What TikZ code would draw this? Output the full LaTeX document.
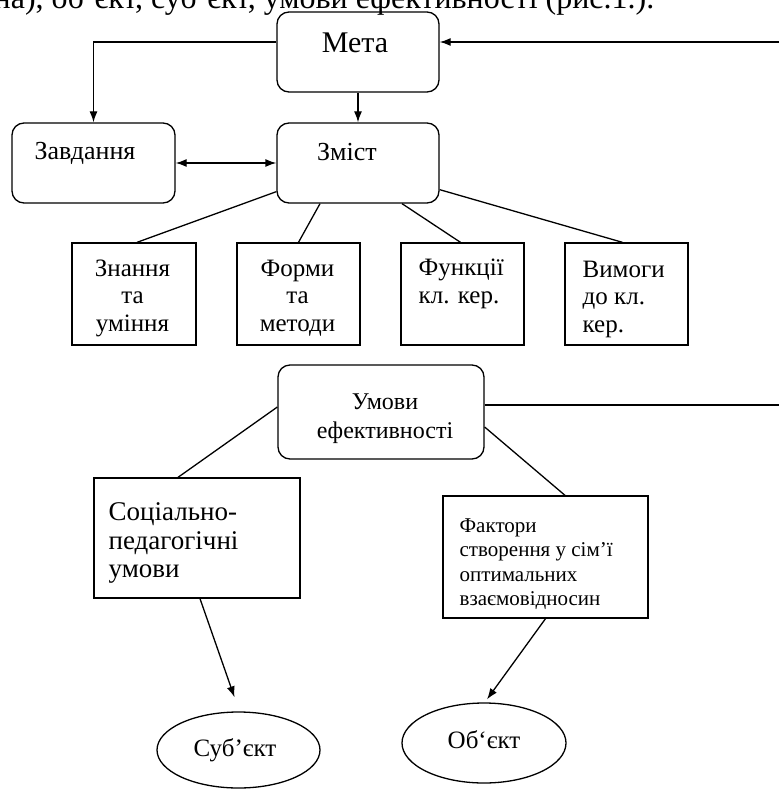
\documentclass[tikz,border=0pt]{standalone}
\usepackage{fontspec}
\setmainfont{Liberation Serif}
\usetikzlibrary{arrows.meta,shapes.geometric}
\begin{document}
\begin{tikzpicture}[x=1pt,y=-1pt,line width=1.3pt,
  rbox/.style={draw,rounded corners=12pt,inner sep=0pt},
  sbox/.style={draw,inner sep=0pt},
  ell/.style={draw,ellipse,inner sep=0pt},
  arr/.style={-{Latex[length=11pt,width=8pt]}},
  darr/.style={{Latex[length=11pt,width=8pt]}-{Latex[length=11pt,width=8pt]}},
  txt/.style={inner sep=0pt,align=center},
  ltxt/.style={inner sep=0pt,align=left,anchor=west},
  fa/.style={font=\fontsize{30}{34}\selectfont},
  ftop/.style={font=\fontsize{32}{36}\selectfont},
  fb/.style={font=\fontsize{26}{29}\selectfont},
  fc/.style={font=\fontsize{25}{27.5}\selectfont},
  fd/.style={font=\fontsize{24}{29}\selectfont},
  fe/.style={font=\fontsize{27}{28.5}\selectfont},
  ff/.style={font=\fontsize{21}{24.5}\selectfont},
]
\useasboundingbox (0,0) rectangle (779,789);
\clip (0,0) rectangle (779,789);

% cut-off line of body text at the top (as in the reference)
\node[inner sep=0pt,anchor=base east,ftop] (toptext) at (655,9) {на), об’єкт, суб’єкт, умови ефективності (рис.1.).};

% boxes
\node[rbox,minimum width=162pt,minimum height=80pt] (meta) at (358,52) {};
\node[txt,fa] (metaT) at (355,43) {Мета};

\node[rbox,minimum width=163pt,minimum height=80pt] (zavd) at (93.5,163) {};
\node[txt,fb] (zavdT) at (85,153) {Завдання};

\node[rbox,minimum width=162pt,minimum height=80pt] (zmist) at (358,163) {};
\node[txt,fb] (zmistT) at (347,152) {Зміст};

\node[sbox,minimum width=124pt,minimum height=102pt] (b1) at (134,294) {};
\node[txt,fc] (b1T) at (132.5,298) {Знання\\та\\уміння};
\node[sbox,minimum width=123pt,minimum height=102pt] (b2) at (298.5,294) {};
\node[txt,fc] (b2T) at (297.5,298) {Форми\\та\\методи};
\node[sbox,minimum width=123pt,minimum height=102pt] (b3) at (462.5,294) {};
\node[ltxt,fc] (b3T) at (418,284) {Функції\\кл. кер.};
\node[sbox,minimum width=123pt,minimum height=102pt] (b4) at (626.5,294) {};
\node[ltxt,fc] (b4T) at (582,299) {Вимоги\\до кл.\\кер.};

\node[rbox,minimum width=206pt,minimum height=94pt] (umovy) at (381,412) {};
\node[txt,fd] (umovyT) at (385,419) {Умови\\ефективності};

\node[sbox,minimum width=206pt,minimum height=120pt] (soc) at (197,538) {};
\node[ltxt,fe] (socT) at (108,543) {Соціально-\\педагогічні\\умови};

\node[sbox,minimum width=205pt,minimum height=122pt] (fakt) at (545.5,557) {};
\node[ltxt,ff] (faktT) at (459,564) {Фактори\\створення у сім’ї\\оптимальних\\взаємовідносин};

\node[ell,minimum width=163pt,minimum height=76pt] (sub) at (238.5,750) {};
\node[txt,fc] (subT) at (235,750) {Суб’єкт};
\node[ell,minimum width=164pt,minimum height=80pt] (ob) at (484,743) {};
\node[txt,fc] (obT) at (484,740) {Об‘єкт};

% free ends at the right edge
\coordinate (rin) at (779,42);
\coordinate (rout) at (779,405);

% connectors
\draw[arr] (rin) -- (meta.east |- rin);
\draw[arr] (meta.west |- rin) -| (zavd.north);
\draw[arr] (meta.south) -- (zmist.north);
\draw[darr] (zavd.east) -- (zmist.west);

\draw ([yshift=12pt]zmist.south west) -- ([xshift=3pt]b1.north);
\draw ([xshift=-38pt]zmist.south) -- (b2.north);
\draw ([xshift=44pt]zmist.south) -- ([xshift=-2pt]b3.north);
\draw ([yshift=14pt]zmist.south east) -- ([xshift=-4pt]b4.north);

\draw (umovy.east |- rout) -- (rout);
\draw ([yshift=5pt]umovy.west) -- ([xshift=-19pt]soc.north);
\draw ([yshift=-15pt]umovy.east) -- ([xshift=19.5pt]fakt.north);

\draw[arr] ([xshift=3pt]soc.south) -- ([shift={(-4pt,14pt)}]sub.north);
\draw[arr] (fakt.south) -- ([shift={(3pt,3pt)}]ob.north);
\end{tikzpicture}
\end{document}
